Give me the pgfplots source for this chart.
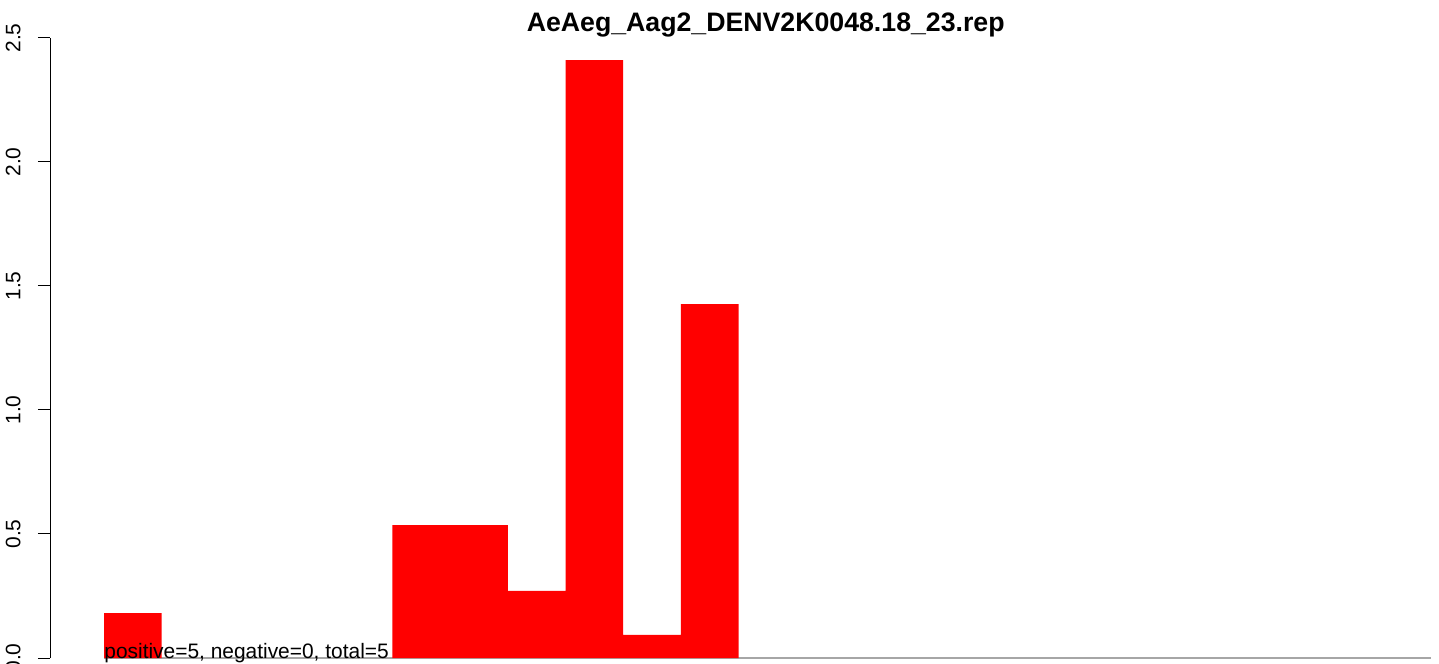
\documentclass[border=0pt]{standalone}
\usepackage{fontspec}
\setmainfont{Liberation Sans}
\usepackage{pgfplots}
\pgfplotsset{compat=1.18}
\definecolor{zeroline}{RGB}{166,166,166}
\begin{document}
\begin{tikzpicture}
\begin{axis}[
  name=ax,
  scale only axis,
  width=694.5bp, height=310bp,
  xmin=-0.936, xmax=23.14,
  ymin=0, ymax=2.5,
  axis x line=none,
  axis y line*=left,
  ytick={0,0.5,1,1.5,2,2.5},
  y axis line style={line width=0.5bp},
  major tick style={line width=0.5bp, black},
  tick align=outside,
  major tick length=6bp,
  yticklabel style={rotate=90, anchor=south, inner ysep=8.5bp,
    font=\fontsize{10.5}{12}\selectfont},
  /pgf/number format/fixed,
  /pgf/number format/fixed zerofill,
  /pgf/number format/precision=1,
  /pgf/number format/assume math mode=true,
  clip=false,
]
% zero line under the 23 bars (empty bars are left out)
\addplot[draw=zeroline, line width=1bp, no markers] coordinates {(0,0) (23,0)};
\addplot[ybar, bar width=1, bar shift=0, fill=red, draw=none] coordinates {
  (0.5,0.181) (5.5,0.536) (6.5,0.536)
  (7.5,0.271) (8.5,2.411) (9.5,0.093) (10.5,1.427)};
\node[anchor=base west, inner sep=0pt, font=\fontsize{10.5}{12}\selectfont]
  at (axis cs:0,0) {positive=5, negative=0, total=5};
\node[anchor=base, inner sep=0pt, yshift=3bp, font=\bfseries\fontsize{13.4}{15}\selectfont]
  at (axis cs:11.47,2.5) {AeAeg\_Aag2\_DENV2K0048.18\_23.rep};
\end{axis}
\pgfresetboundingbox
\path ([xshift=-25bp,yshift=-3bp]ax.south west) rectangle ([yshift=19bp]ax.north east);
\end{tikzpicture}
\end{document}
